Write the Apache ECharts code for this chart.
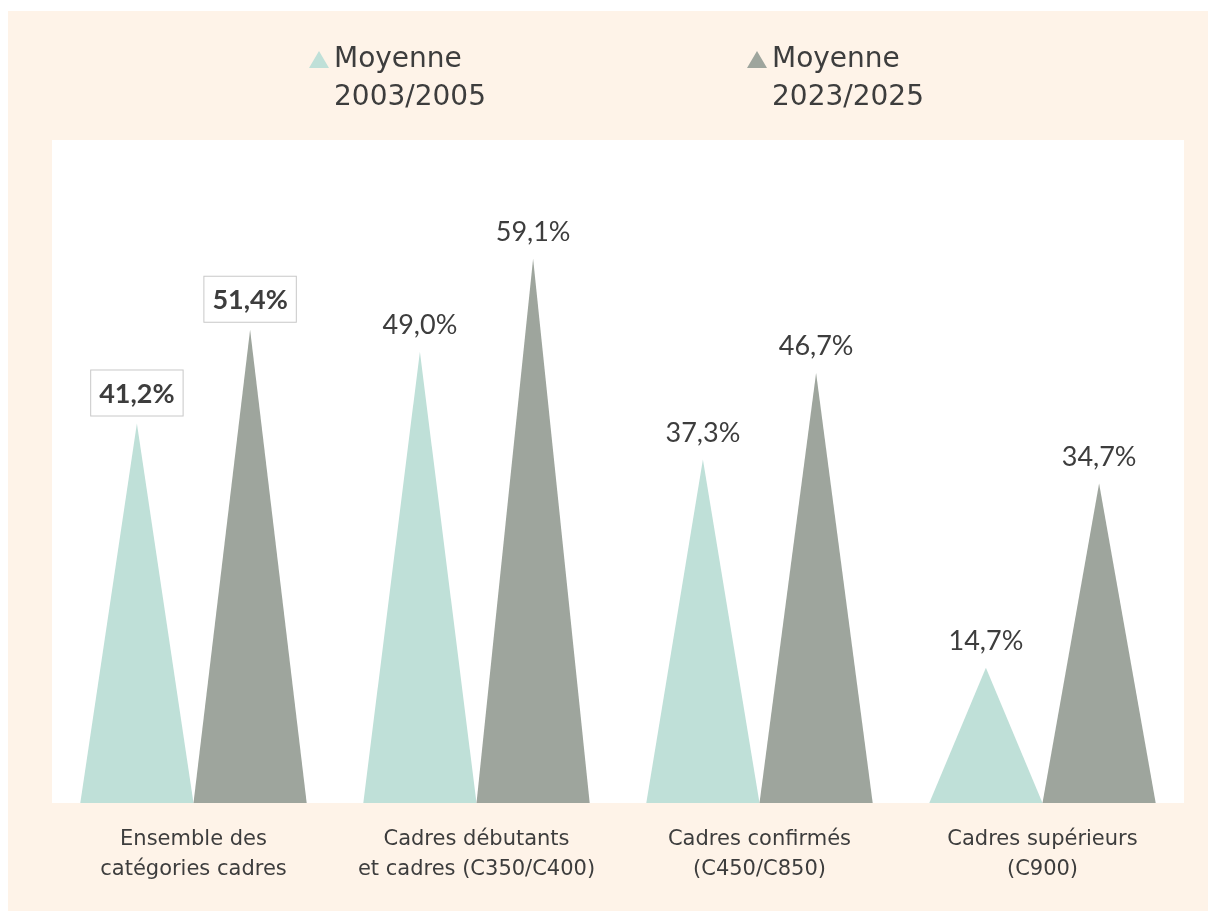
<!DOCTYPE html>
<html>
<head>
<meta charset="utf-8">
<script src="https://cdn.jsdelivr.net/npm/echarts@6/dist/echarts.min.js"></script>
<style>
  html, body { margin: 0; padding: 0; background: #fff; }
  #chart { position: absolute; left: 8px; top: 11px; width: 1200px; height: 900px; }
</style>
</head>
<body>
<div id="chart"></div>
<script>
const categories = [
  'Ensemble des\ncatégories cadres',
  'Cadres débutants\net cadres (C350/C400)',
  'Cadres confirmés\n(C450/C850)',
  'Cadres supérieurs\n(C900)',
]
const seriesNames = ['Moyenne\n2003/2005', 'Moyenne\n2023/2025']
const values2003 = [41.2, 49.0, 37.3, 14.7]
const values2023 = [51.4, 59.1, 46.7, 34.7]
const colors = ['#bfe0d8', '#9ea59d']

const TEXT_FONT = '"DejaVu Sans", "Noto Sans", sans-serif'
const VALUE_FONT = 'Lato, "Noto Sans", sans-serif'
const fmt = (v) => v.toFixed(1).replace('.', ',') + '%'

// triangle on top, empty point below so the icon lines up with the first text line
const LEGEND_ICON = 'path://M10,0L20,17L0,17Z M0,56L0,56Z'

function buildData(values) {
  return values.map((v, i) => {
    const item = { value: v }
    if (i === 0) {
      // first category gets boxed, bold labels
      item.label = {
        fontWeight: 'bold',
        backgroundColor: '#fff',
        borderColor: '#c8c8c8',
        borderWidth: 1,
        padding: [10, 8, 8, 8],
        distance: 8,
      }
    }
    return item
  })
}

function makeSeries(name, values, color) {
  return {
    name,
    type: 'pictorialBar',
    symbol: 'triangle',
    symbolSize: ['100%', '100%'],
    barWidth: '40%',
    barGap: '0%',
    itemStyle: { color },
    label: {
      show: true,
      position: 'top',
      distance: 13,
      formatter: (p) => fmt(p.value),
      fontFamily: VALUE_FONT,
      fontSize: 27,
      color: '#3d3d3d',
    },
    data: buildData(values),
  }
}

function makeLegend(name, left) {
  return {
    data: [name],
    left,
    top: 25,
    icon: LEGEND_ICON,
    itemWidth: 20,
    itemHeight: 56,
    textStyle: {
      fontFamily: TEXT_FONT,
      fontSize: 28,
      color: '#3d3d3d',
      lineHeight: 38,
    },
  }
}

const chart = echarts.init(document.getElementById('chart'))
chart.setOption({
  backgroundColor: '#fef3e8',
  animation: false,
  legend: [
    makeLegend(seriesNames[0], 296),
    makeLegend(seriesNames[1], 734),
  ],
  grid: {
    left: 44,
    right: 24,
    top: 129,
    bottom: 108,
    show: true,
    backgroundColor: '#fff',
    borderWidth: 0,
  },
  xAxis: {
    type: 'category',
    data: categories,
    axisLine: { show: false },
    axisTick: { show: false },
    axisLabel: {
      interval: 0,
      margin: 22,
      fontFamily: TEXT_FONT,
      fontSize: 21,
      lineHeight: 30,
      color: '#3d3d3d',
    },
  },
  yAxis: {
    type: 'value',
    min: 0,
    max: 72,
    show: false,
  },
  series: [
    makeSeries(seriesNames[0], values2003, colors[0]),
    makeSeries(seriesNames[1], values2023, colors[1]),
  ],
})
</script>
</body>
</html>
